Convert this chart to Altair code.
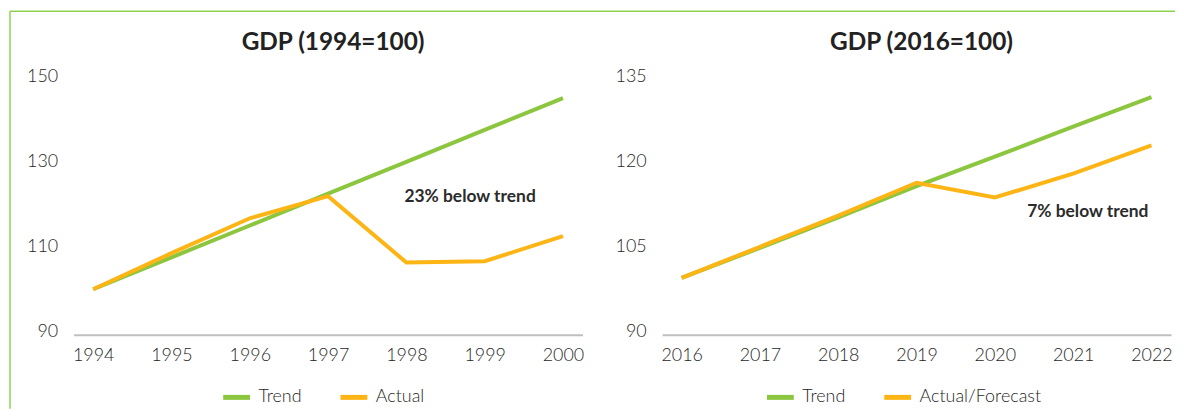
import altair as alt
import pandas as pd

# ---------------- data ----------------
years_a = ["1994", "1995", "1996", "1997", "1998", "1999", "2000"]
trend_a = [100, 107.5, 115, 122.5, 130, 137.5, 145]
actual_a = [100, 108.5, 116.7, 121.9, 106.3, 106.6, 112.5]
series_a = ["Trend", "Actual"]
ticks_a = [90, 110, 130, 150]
domain_a = [90, 150]
title_a = "GDP (1994=100)"
note_a = ["23% below trend"]
note_a_x = ["1998"]
note_a_y = [121.8]

years_b = ["2016", "2017", "2018", "2019", "2020", "2021", "2022"]
trend_b = [99.5, 104.8, 110.2, 115.7, 120.9, 126.2, 131.4]
actual_b = [99.5, 105.0, 110.5, 116.3, 113.7, 117.9, 122.9]
series_b = ["Trend", "Actual/Forecast"]
ticks_b = [90, 105, 120, 135]
domain_b = [90, 135]
title_b = "GDP (2016=100)"
note_b = ["7% below trend"]
note_b_x = ["2022"]
note_b_y = [111.2]

# ---------------- style ----------------
GREEN = "#8cc63f"
ORANGE = "#fdb515"
FRAME = "#8fd14f"
FONT = "Lato"
TXT = "#1f1f1f"
W, H, GAP = 512, 256.5, 80


def panel(years, trend, actual, names, ydom, yticks, title, note, nx, ny,
          nalign, ndx, legend_x, frame_left):
    df_t = pd.DataFrame({"year": years, "value": trend, "series": names[0]})
    df_a = pd.DataFrame({"year": years, "value": actual, "series": names[1]})
    df_n = pd.DataFrame({"year": nx, "value": ny, "label": note})

    x = alt.X("year:O",
              scale=alt.Scale(type="point", padding=0.25),
              axis=alt.Axis(title=None, labelAngle=0, ticks=False, tickSize=0,
                            grid=False, domainColor="#bfbfbf", domainWidth=2,
                            labelPadding=12, offset=3, labelFontSize=18,
                            labelFontWeight=300,
                            labelColor=TXT, labelFont=FONT))
    y = alt.Y("value:Q",
              scale=alt.Scale(domain=ydom, nice=False, zero=False),
              axis=alt.Axis(title=None, values=yticks, domain=False, ticks=False,
                            tickSize=0, grid=False, labelPadding=16,
                            labelFontSize=18, labelFontWeight=300,
                            labelColor=TXT, labelFont=FONT))
    color = alt.Color("series:N",
                      scale=alt.Scale(domain=names, range=[GREEN, ORANGE]),
                      legend=alt.Legend(title=None, orient="none",
                                        legendX=legend_x, legendY=306.5,
                                        direction="horizontal",
                                        symbolType="stroke", symbolSize=729,
                                        symbolStrokeWidth=5, labelFontSize=18,
                                        labelFontWeight=300,
                                        labelFont=FONT, labelColor=TXT,
                                        labelOffset=6, columnPadding=28,
                                        padding=0))

    trend_line = alt.Chart(df_t).mark_line(strokeWidth=4).encode(x=x, y=y, color=color)
    actual_line = alt.Chart(df_a).mark_line(strokeWidth=4).encode(x=x, y=y, color=color)
    notes = alt.Chart(df_n).mark_text(font=FONT, fontWeight="bold", fontSize=17.5,
                                      align=nalign, baseline="middle", dx=ndx,
                                      color="#2b2b2b").encode(x=x, y=y, text="label:N")

    one = pd.DataFrame({"k": [0]})
    layers = []
    if frame_left:
        layers.append(alt.Chart(one).mark_rule(color=FRAME, strokeWidth=1.5).encode(
            x=alt.value(-64), y=alt.value(-66), y2=alt.value(334)))
        layers.append(alt.Chart(one).mark_rule(color=FRAME, strokeWidth=1.5).encode(
            x=alt.value(-64), x2=alt.value(W + GAP), y=alt.value(-66)))
    else:
        layers.append(alt.Chart(one).mark_rule(color=FRAME, strokeWidth=1.5).encode(
            x=alt.value(0), x2=alt.value(516), y=alt.value(-66)))
    layers += [trend_line, actual_line, notes]

    return alt.layer(*layers).properties(
        width=W, height=H,
        title=alt.Title(title, fontSize=24.5, font=FONT, fontWeight="bold",
                        color="#222222", offset=-45, frame="group", dx=5,
                        anchor="middle"))


left = panel(years_a, trend_a, actual_a, series_a, domain_a, ticks_a, title_a,
             note_a, note_a_x, note_a_y, "left", -2, 148, True)
right = panel(years_b, trend_b, actual_b, series_b, domain_b, ticks_b, title_b,
              note_b, note_b_x, note_b_y, "right", -3, 103, False)

chart = alt.hconcat(left, right, spacing=GAP, bounds="flush").resolve_scale(
    color="independent", x="independent", y="independent"
).properties(
    padding={"left": 1, "top": 1, "right": 0, "bottom": 0},
    background="white",
).configure_view(strokeWidth=0)

chart.save("out.html", embed_options={"renderer": "svg", "actions": False})
